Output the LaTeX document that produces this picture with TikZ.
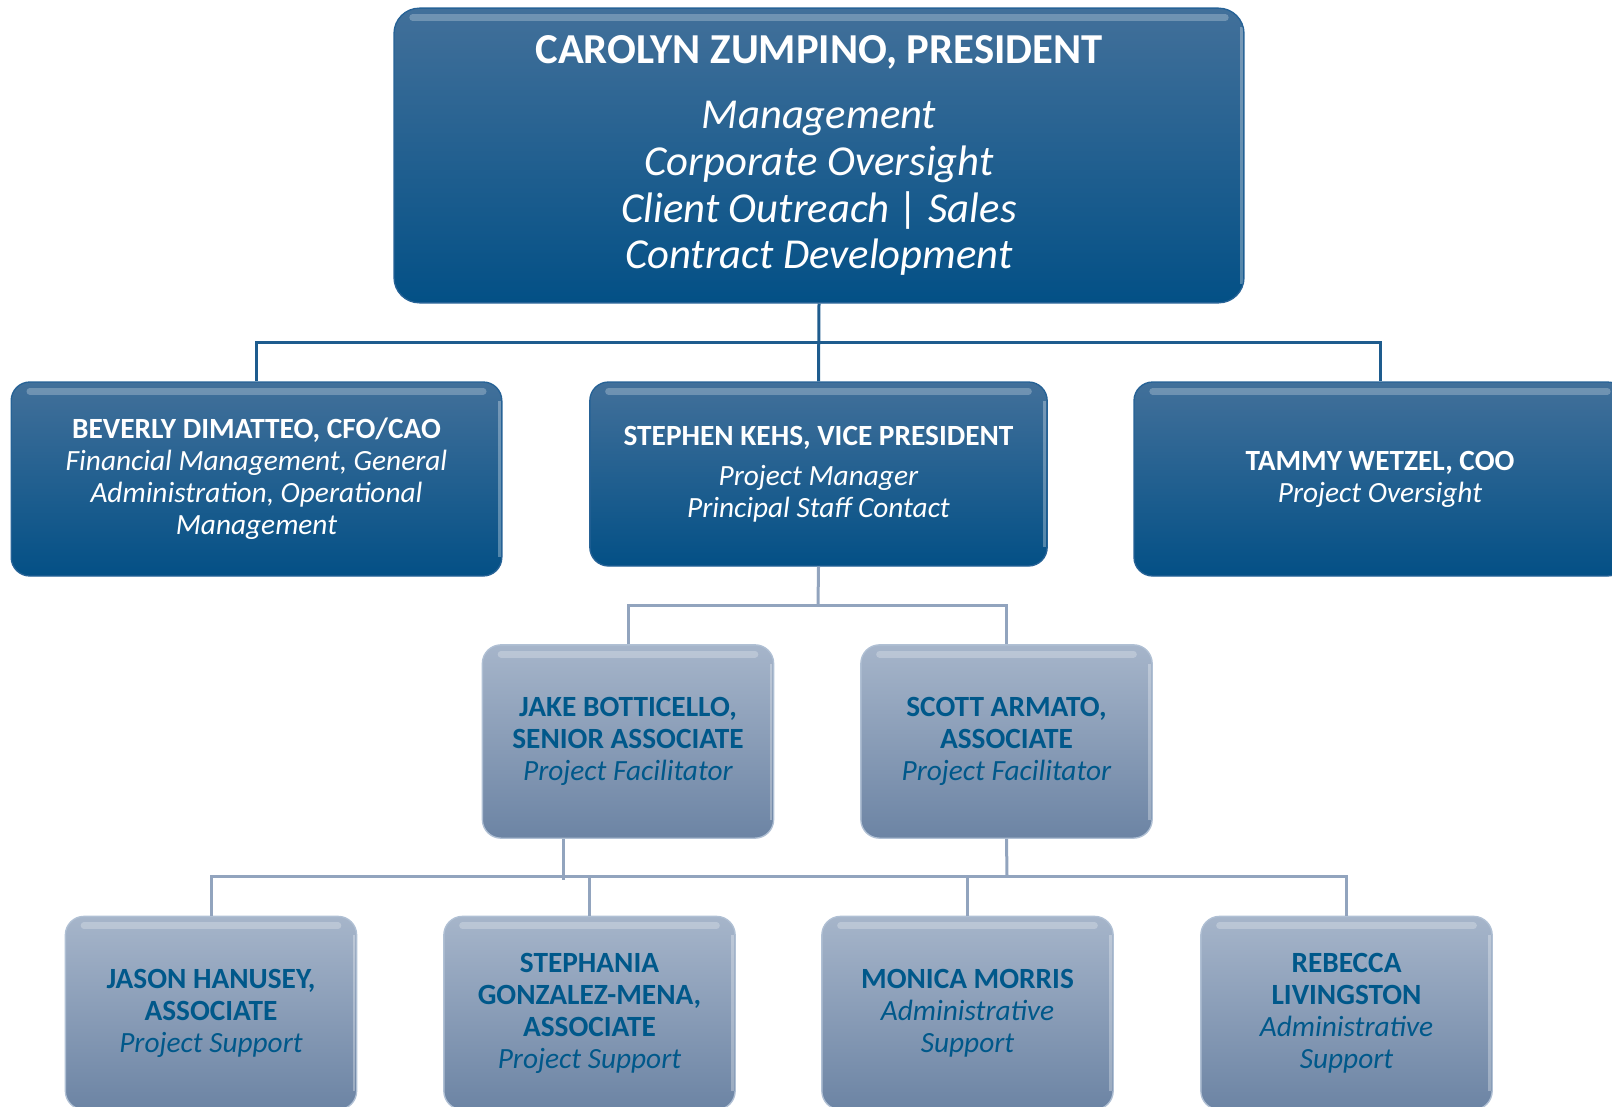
\documentclass[tikz,border=0pt]{standalone}
\usepackage{fontspec}
\setmainfont{Carlito}

\definecolor{chiefTop}{RGB}{66,112,154}
\definecolor{chiefMid}{RGB}{8,86,138}
\definecolor{chiefBot}{RGB}{3,80,134}
\definecolor{chiefEdge}{RGB}{38,98,150}
\definecolor{staffTop}{RGB}{166,181,202}
\definecolor{staffBot}{RGB}{108,132,164}
\definecolor{staffEdge}{RGB}{176,192,212}
\definecolor{staffText}{RGB}{0,88,138}
\definecolor{topLine}{RGB}{30,92,142}
\definecolor{lowLine}{RGB}{146,164,190}

\begin{document}
\begin{tikzpicture}[x=0.75pt, y=-0.75pt]
        \tikzset{Gloss/.style = {path picture = {
            \draw[white, opacity=0.25, line width=5pt, line cap=round]
              ([xshift=14pt,yshift=-7pt]path picture bounding box.north west) --
              ([xshift=-14pt,yshift=-7pt]path picture bounding box.north east);
            \draw[white, opacity=0.3, line width=2pt]
              ([xshift=-2pt,yshift=-14pt]path picture bounding box.north east) --
              ([xshift=-2pt,yshift=14pt]path picture bounding box.south east);}}}
        \tikzset{ChiefStyle/.style = {Gloss,
            rounded corners = 14pt,
            draw        = chiefEdge,
            line width  = 1pt,
            top color   = chiefTop,
            middle color = chiefMid,
            bottom color = chiefBot,
            text        = white,
            align       = center,
            inner sep   = 0pt,
            font        = \fontsize{22}{24}\selectfont}}
        \tikzset{StaffStyle/.style = {ChiefStyle,
            draw        = staffEdge,
            top color   = staffTop,
            middle color = {staffTop!50!staffBot},
            bottom color = staffBot,
            text        = staffText,
            minimum width = 218.5pt,
            minimum height = 145pt}}
        \tikzset{TopLine/.style = {draw=topLine, line width=2.25pt}}
        \tikzset{LowLine/.style = {draw=lowLine, line width=2.25pt}}
        \useasboundingbox (0,0) rectangle (1612,1106);
        % president
        \node[ChiefStyle, rounded corners=19pt, minimum width=637.5pt,
              minimum height=221pt, font=\fontsize{32}{35}\selectfont] (pres) at (819,155.5)
          {\textbf{CAROLYN ZUMPINO, PRESIDENT}\\[14pt]
           \textit{Management}\\ \textit{Corporate Oversight}\\
           \textit{Client Outreach | Sales}\\ \textit{Contract Development}};
        % officers
        \node[ChiefStyle, minimum width=368pt, minimum height=145.5pt] (cfo) at (256.5,479)
          {\textbf{BEVERLY DIMATTEO, CFO/CAO}\\ \textit{Financial Management, General}\\
           \textit{Administration, Operational}\\ \textit{Management}};
        \node[ChiefStyle, minimum width=343pt, minimum height=138pt] (vp) at (818.5,474)
          {\textbf{STEPHEN KEHS, VICE PRESIDENT}\\[6pt] \textit{Project Manager}\\
           \textit{Principal Staff Contact}};
        \node[ChiefStyle, minimum width=369pt, minimum height=145.5pt] (coo) at (1380,479)
          {\textbf{TAMMY WETZEL, COO}\\ \textit{Project Oversight}};
        % facilitators
        \node[StaffStyle] (jake) at (628,741.5)
          {\textbf{JAKE BOTTICELLO,}\\ \textbf{SENIOR ASSOCIATE}\\ \textit{Project Facilitator}};
        \node[StaffStyle] (scott) at (1006.5,741.5)
          {\textbf{SCOTT ARMATO,}\\ \textbf{ASSOCIATE}\\ \textit{Project Facilitator}};
        % support
        \node[StaffStyle] (jason) at (211,1013)
          {\textbf{JASON HANUSEY,}\\ \textbf{ASSOCIATE}\\ \textit{Project Support}};
        \node[StaffStyle] (steph) at (589.5,1013)
          {\textbf{STEPHANIA}\\ \textbf{GONZALEZ-MENA,}\\ \textbf{ASSOCIATE}\\ \textit{Project Support}};
        \node[StaffStyle] (monica) at (967.5,1013)
          {\textbf{MONICA MORRIS}\\ \textit{Administrative}\\ \textit{Support}};
        \node[StaffStyle] (rebecca) at (1346.5,1013)
          {\textbf{REBECCA}\\ \textbf{LIVINGSTON}\\ \textit{Administrative}\\ \textit{Support}};
        % connectors
        \coordinate (bus1) at (819,342);
        \coordinate (bus2) at (818,605);
        \coordinate (bus3) at (1007,876);
        \coordinate (jakeend) at (563,880);
        \draw[TopLine] (pres.south) -- (vp.north);
        \draw[TopLine] (cfo.north) |- (bus1) -| (coo.north);
        \draw[LowLine] (vp.south) -- (bus2);
        \draw[LowLine] (jake.north) |- (bus2) -| (scott.north);
        \draw[LowLine] (jake.south -| jakeend) -- (jakeend);
        \draw[LowLine] (scott.south) -- (bus3);
        \draw[LowLine] (jason.north) |- (bus3) -| (rebecca.north);
        \draw[LowLine] (steph.north) -- (steph.north |- bus3);
        \draw[LowLine] (monica.north) -- (monica.north |- bus3);
      \end{tikzpicture}
\end{document}
